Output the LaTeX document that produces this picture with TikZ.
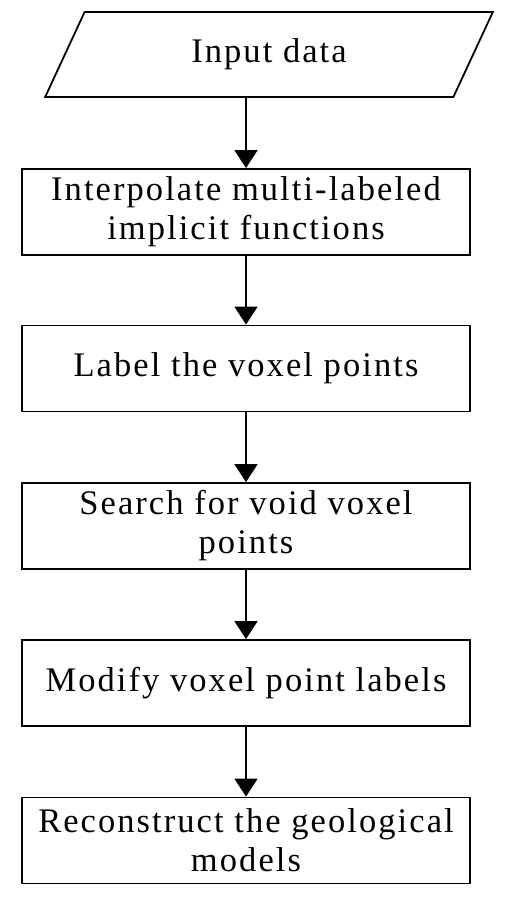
\documentclass[tikz,border=0pt]{standalone}
\usepackage{fontspec}
\setmainfont[LetterSpace=6]{Liberation Serif}
\usetikzlibrary{shapes.geometric,arrows.meta}
\tikzset{
  stepbox/.style={draw, line width=1.8pt, rectangle, minimum width=448pt, minimum height=86pt, align=center, inner sep=0pt},
  iobox/.style={draw, line width=1.8pt, trapezium, trapezium left angle=62, trapezium right angle=118, trapezium stretches=true, minimum width=448pt, minimum height=85pt, inner sep=0pt},
  flow/.style={line width=1.8pt, -{Triangle[length=18pt,width=23pt]}}
}
\begin{document}
\begin{tikzpicture}[x=1pt,y=1pt,font=\fontsize{34.5}{39}\selectfont]
\fill[white] (0,0) rectangle (506,-900);
\useasboundingbox (0,0) rectangle (506,-900);
\node[iobox] (in) at (269,-54.5) {Input data};
\node[stepbox] (b1) at (246,-212) {Interpolate multi-labeled\\implicit functions};
\node[stepbox] (b2) at (246,-368.5) {Label the voxel points};
\node[stepbox] (b3) at (246,-526) {Search for void voxel\\points};
\node[stepbox] (b4) at (246,-683) {Modify voxel point labels};
\node[stepbox] (b5) at (246,-840.5) {Reconstruct the geological\\models};
\draw[flow] (in.south -| b1.north) -- (b1.north);
\draw[flow] (b1.south) -- (b2.north);
\draw[flow] (b2.south) -- (b3.north);
\draw[flow] (b3.south) -- (b4.north);
\draw[flow] (b4.south) -- (b5.north);
\end{tikzpicture}
\end{document}
